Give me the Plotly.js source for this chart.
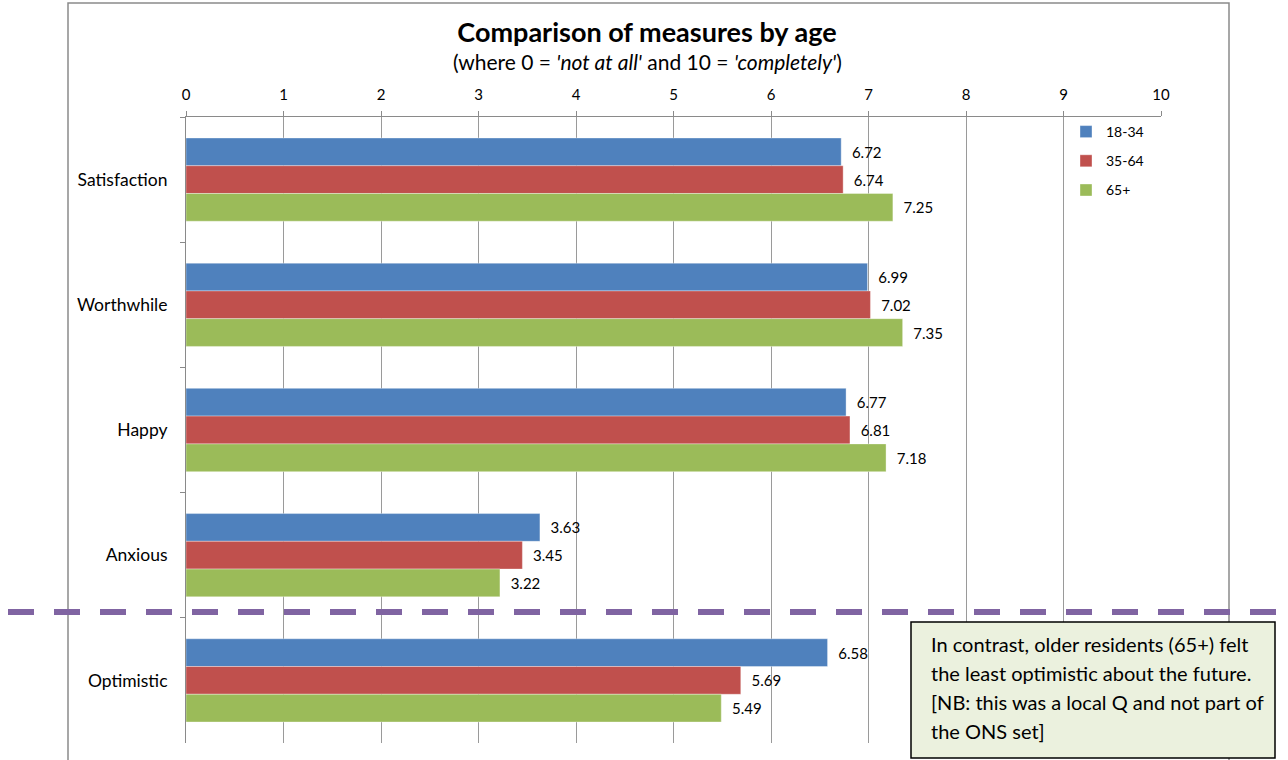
<!DOCTYPE html>
<html>
<head>
<meta charset="utf-8">
<script src="https://cdn.plot.ly/plotly-3.0.1.min.js"></script>
<style>html,body{margin:0;padding:0;background:#fff;}#chart{width:1288px;height:760px;}</style>
</head>
<body>
<div id="chart"></div>
<script>
const categories = ["Satisfaction", "Worthwhile", "Happy", "Anxious", "Optimistic"];
const seriesNames = ["18-34", "35-64", "65+"];
const age18to34 = [6.72, 6.99, 6.77, 3.63, 6.58];
const age35to64 = [6.74, 7.02, 6.81, 3.45, 5.69];
const age65plus = [7.25, 7.35, 7.18, 3.22, 5.49];
const xTickValues = [0, 1, 2, 3, 4, 5, 6, 7, 8, 9, 10];
const noteLines = [
  "In contrast, older residents (65+) felt",
  "the least optimistic about the future.",
  "[NB: this was a local Q and not part of",
  "the ONS set]"
];

const colors = ["#4F81BD", "#C0504D", "#9BBB59"];
const seriesValues = [age18to34, age35to64, age65plus];

// pixel helpers for layout geometry (margins: l=186, r=127, t=117, b=17)
const L = 186, R = 1161, T = 117, B = 743;
const px = x => (x - L) / (R - L);
const py = y => (B - y) / (B - T);

const traces = seriesValues.map((vals, i) => ({
  type: "bar",
  orientation: "h",
  name: seriesNames[i],
  y: categories,
  x: vals,
  marker: {color: colors[i], line: {color: "rgba(255,255,255,0.6)", width: 0.6}},
  text: vals.map(v => "\u00a0\u00a0" + v.toFixed(2)),
  textposition: "outside",
  cliponaxis: false,
  textfont: {family: "Lato, sans-serif", size: 15, color: "#000"},
  legendgroup: "g" + i,
  hoverinfo: "x+name"
}));

const shapes = [
  // chart border
  {type: "rect", xref: "paper", yref: "paper", x0: px(68), x1: px(1229), y0: py(3), y1: py(775),
   line: {color: "#8a8a8a", width: 1.5}, fillcolor: "rgba(0,0,0,0)", layer: "below"},
  // dashed divider
  {type: "line", xref: "paper", yref: "paper", x0: px(8), x1: px(1300), y0: py(612), y1: py(612),
   line: {color: "#8064A2", width: 6, dash: "26px,20px"}, layer: "above"},
  // note box
  {type: "rect", xref: "paper", yref: "paper", x0: px(911), x1: px(1275), y0: py(622), y1: py(758),
   line: {color: "#000", width: 1.5}, fillcolor: "#EBF1DE", layer: "above"}
];

const annotations = [
  {xref: "paper", yref: "paper", x: px(647), y: py(62), xanchor: "center", yanchor: "middle",
   showarrow: false, font: {family: "Lato, sans-serif", size: 21, color: "#000"},
   text: "(where 0 = <i>'not at all'</i> and 10 = <i>'completely'</i>)"}
];
const lineY = [644, 673, 702, 731];
noteLines.forEach((t, i) => annotations.push({
  xref: "paper", yref: "paper", x: px(929), y: py(lineY[i]), xanchor: "left", yanchor: "middle",
  showarrow: false, text: t, font: {family: "Lato, sans-serif", size: 20, color: "#000"}
}));

const layout = {
  width: 1288, height: 760,
  margin: {l: L, r: 1288 - R, t: T, b: 760 - B, pad: 0},
  paper_bgcolor: "#fff", plot_bgcolor: "#fff",
  font: {family: "Lato, sans-serif", color: "#000"},
  title: {text: "<b>Comparison of measures by age</b>", font: {family: "Lato, sans-serif", size: 27, color: "#000"},
          xref: "paper", x: px(647), xanchor: "center", yref: "container", y: 1 - 33/760, yanchor: "middle"},
  barmode: "group",
  bargap: 0.335,
  bargroupgap: 0,
  xaxis: {
    side: "top", range: [0, 10], tickvals: xTickValues, ticktext: xTickValues.map(String),
    showgrid: true, gridcolor: "#9a9a9a", gridwidth: 1, zeroline: false,
    showline: true, linecolor: "#8a8a8a", linewidth: 1,
    ticks: "outside", ticklen: 5, tickcolor: "#8a8a8a", ticklabelstandoff: 5,
    tickfont: {family: "Lato, sans-serif", size: 15, color: "#000"}, fixedrange: true
  },
  yaxis: {
    type: "category", categoryorder: "array", categoryarray: categories, autorange: "reversed",
    showline: true, linecolor: "#8a8a8a", linewidth: 1, showgrid: false, zeroline: false,
    ticks: "outside", ticklen: 5, tickcolor: "#8a8a8a", tickson: "boundaries", ticklabelstandoff: 14,
    tickfont: {family: "Lato, sans-serif", size: 17.5, color: "#000"}, fixedrange: true
  },
  legend: {
    x: px(1066), y: py(116), xanchor: "left", yanchor: "top",
    font: {family: "Lato, sans-serif", size: 14, color: "#000"},
    bgcolor: "rgba(255,255,255,0)", tracegroupgap: 8, itemwidth: 30, traceorder: "grouped"
  },
  showlegend: true,
  shapes: shapes,
  annotations: annotations
};

Plotly.newPlot("chart", traces, layout, {displayModeBar: false, staticPlot: true});
</script>
</body>
</html>
